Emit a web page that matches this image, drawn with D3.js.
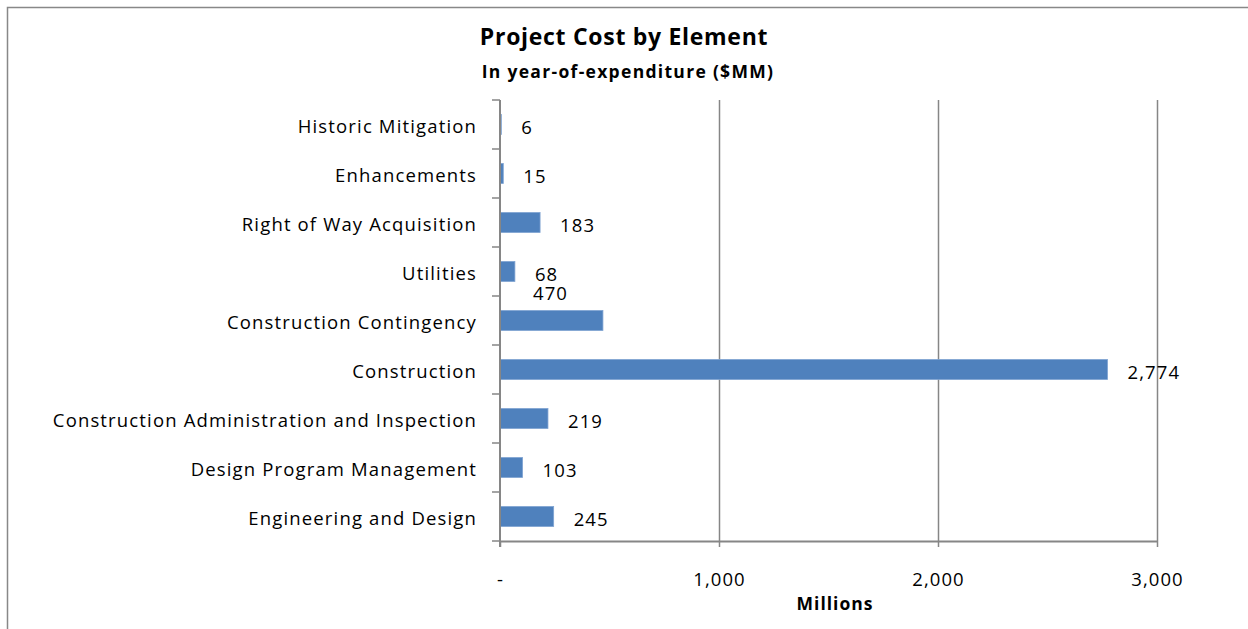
<!DOCTYPE html>
<html>
<head>
<meta charset="utf-8">
<script src="https://cdn.jsdelivr.net/npm/d3@7"></script>
<style>
  body { margin: 0; background: #fff; }
  svg text { font-family: "Open Sans", Lato, sans-serif; fill: #000; }
</style>
</head>
<body>
<div id="chart"></div>
<script>
// categories, bottom to top as in the source sheet
var categories = ["Engineering and Design", "Design Program Management",
	"Construction Administration and Inspection", "Construction",
	"Construction Contingency", "Utilities", "Right of Way Acquisition",
	"Enhancements", "Historic Mitigation"];
var costs = [245, 103, 219, 2774, 470, 68, 183, 15, 6];
var xTicks = [0, 1000, 2000, 3000];
var xTickLabels = ["-", "1,000", "2,000", "3,000"];

var width = 1248, height = 629;
var margin = {left: 500, right: 91, top: 100, bottom: 88};

var svg = d3.select("#chart").append("svg")
	.attr("width", width)
	.attr("height", height);

// chart frame (runs off right and bottom edge)
svg.append("rect")
	.attr("x", 7.5).attr("y", 7.5)
	.attr("width", width + 10).attr("height", height + 10)
	.attr("fill", "none")
	.attr("stroke", "#888").attr("stroke-width", 1.5);

var x = d3.scaleLinear().domain([0, 3000]).range([margin.left, width - margin.right]);
var y = d3.scaleBand().domain(categories.slice().reverse())
	.range([margin.top, height - margin.bottom]);

//gridlines
svg.append("g").selectAll("line").data(xTicks.slice(1)).enter().append("line")
	.attr("x1", function(d){return x(d) + 0.5;})
	.attr("x2", function(d){return x(d) + 0.5;})
	.attr("y1", y.range()[0])
	.attr("y2", y.range()[1])
	.attr("stroke", "#868686").attr("stroke-width", 1.5);

//bars
var barH = 20;
svg.append("g").selectAll("rect").data(categories).enter().append("rect")
	.attr("x", x(0))
	.attr("y", function(d){return y(d) + y.bandwidth()/2 - barH/2;})
	.attr("width", function(d, i){return x(costs[i]) - x(0);})
	.attr("height", barH)
	.attr("fill", "#4f81bd")
	.attr("stroke", "#7fa3d2").attr("stroke-width", 0.8);

//x axis
var xAxis = d3.axisBottom(x).tickValues(xTicks)
	.tickFormat(function(d, i){return xTickLabels[i];})
	.tickSize(6).tickSizeOuter(0).tickPadding(26);
var xg = svg.append("g").attr("transform", "translate(0," + y.range()[1] + ")").call(xAxis);
xg.select(".domain").attr("stroke", "#868686").attr("stroke-width", 2);
xg.selectAll(".tick line").attr("stroke", "#868686").attr("stroke-width", 1.5);
xg.selectAll(".tick text")
	.style("font-size", "18.5px")
	.style("font-family", "'Open Sans', sans-serif")
	.style("letter-spacing", "1.1px");

//y axis: ticks sit on band edges
var edges = categories.map(function(d){return y(d);}).concat([y.range()[1]]);
svg.append("g").selectAll("line").data(edges).enter().append("line")
	.attr("x1", x(0) - 8).attr("x2", x(0))
	.attr("y1", function(d){return d;}).attr("y2", function(d){return d;})
	.attr("stroke", "#868686").attr("stroke-width", 1.5);
svg.append("line")
	.attr("x1", x(0)).attr("x2", x(0))
	.attr("y1", y.range()[0]).attr("y2", y.range()[1] + 6)
	.attr("stroke", "#868686").attr("stroke-width", 2);

svg.append("g").selectAll("text").data(categories).enter().append("text")
	.attr("x", x(0) - 23)
	.attr("y", function(d){return y(d) + y.bandwidth()/2 + 2;})
	.attr("dy", "0.35em")
	.attr("text-anchor", "end")
	.style("font-size", "18.5px")
	.style("letter-spacing", "1.15px")
	.text(function(d){return d;});

//value labels, 470 was dragged up above its bar
svg.append("g").selectAll("text").data(categories).enter().append("text")
	.attr("x", function(d, i){
		if(costs[i] === 470) return x(0) + 33;
		return x(costs[i]) + 20;
	})
	.attr("y", function(d, i){
		if(costs[i] === 470) return y(d) - 2;
		return y(d) + y.bandwidth()/2 + 3;
	})
	.attr("dy", "0.35em")
	.style("font-size", "18.5px")
	.style("letter-spacing", "1.1px")
	.text(function(d, i){return d3.format(",")(costs[i]);});

//titles
svg.append("text").attr("x", 624).attr("y", 45)
	.attr("text-anchor", "middle")
	.style("font-size", "23px").style("font-weight", "bold")
	.style("letter-spacing", "0.7px")
	.text("Project Cost by Element");
svg.append("text").attr("x", 628).attr("y", 78)
	.attr("text-anchor", "middle")
	.style("font-size", "17.5px").style("font-weight", "bold")
	.style("letter-spacing", "1.3px")
	.text("In year-of-expenditure ($MM)");
svg.append("text").attr("x", 835).attr("y", 610)
	.attr("text-anchor", "middle")
	.style("font-size", "17.5px").style("font-weight", "bold")
	.style("letter-spacing", "1px")
	.text("Millions");
</script>
</body>
</html>
